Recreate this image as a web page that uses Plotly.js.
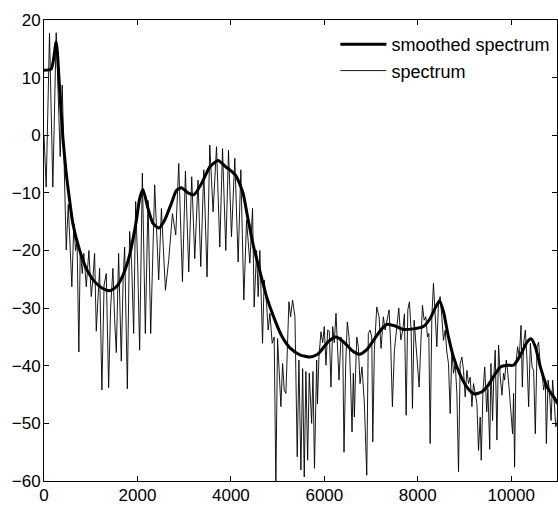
<!DOCTYPE html>
<html>
<head>
<meta charset="utf-8">
<script src="https://cdn.plot.ly/plotly-3.0.1.min.js"></script>
<style>html,body{margin:0;padding:0;background:#fff;}#chart{width:558px;height:506px;}</style>
</head>
<body>
<div id="chart"></div>
<script>
// Smoothed spectrum (Hz, dB)
const smoothFreq = [0,154,261,332,403,476,547,617,761,905,1083,1261,1404,1548,1689,1833,1940,1983,2047,2118,2226,2333,2461,2584,2727,2834,2942,3083,3212,3370,3548,3726,3906,3977,4106,4191,4262,4370,4477,4620,4764,4905,5086,5264,5478,5693,5836,5907,6085,6250,6406,6586,6749,6908,7086,7229,7350,7515,7693,7907,8121,8265,8372,8465,8550,8657,8765,8908,9052,9208,9374,9481,9622,9766,9909,10051,10195,10338,10424,10516,10624,10767,10909,10994];
const smoothDb = [11.3,11.5,16.2,8.4,-0.3,-6.6,-11.2,-15.3,-19.9,-23.1,-25.4,-26.6,-27,-26.3,-24.3,-20.8,-16.5,-14.5,-11,-9.4,-12.7,-15.3,-16.1,-14.7,-11.8,-9.6,-9.1,-10,-10.3,-8.4,-5.5,-4.4,-5.6,-6,-7,-8.5,-10.1,-14.7,-19,-23.6,-28,-31.3,-34.8,-36.9,-38.1,-38.5,-38.1,-37.6,-35.8,-35,-35.8,-37.3,-38,-37.2,-35.2,-33.6,-32.8,-33.1,-33.7,-33.6,-33.2,-31.8,-30,-28.7,-30.6,-35,-38.5,-41.6,-43.7,-44.9,-44.5,-43.7,-41.9,-40.2,-39.9,-39.9,-38.2,-35.9,-35.3,-36.7,-40.2,-43.7,-45.4,-46.6];

// Raw spectrum (Hz, dB)
const specFreq = [0,47,118,189,261,347,390,476,519,596,639,675,708,746,776,819,853,905,961,1012,1046,1083,1119,1190,1239,1286,1333,1383,1426,1475,1512,1548,1597,1654,1694,1726,1784,1833,1876,1919,1962,2004,2047,2105,2169,2226,2284,2369,2455,2513,2599,2669,2749,2820,2884,2963,3027,3098,3162,3227,3297,3355,3420,3490,3548,3619,3692,3763,3821,3891,3949,4013,4084,4155,4213,4277,4335,4406,4464,4498,4550,4584,4620,4678,4712,4764,4798,4835,4884,4927,4963,4999,5033,5070,5107,5141,5178,5214,5242,5278,5321,5371,5420,5456,5499,5536,5570,5606,5643,5677,5729,5757,5789,5836,5853,5885,5928,5965,5999,6035,6072,6106,6142,6179,6213,6250,6286,6314,6357,6393,6421,6458,6492,6529,6565,6593,6621,6643,6668,6694,6728,6764,6807,6857,6908,6942,6979,7015,7037,7071,7122,7172,7214,7264,7300,7337,7386,7422,7457,7500,7551,7594,7637,7680,7714,7751,7787,7821,7858,7886,7922,7958,7993,8029,8066,8100,8136,8173,8207,8237,8265,8301,8336,8372,8408,8443,8479,8515,8550,8587,8622,8657,8694,8730,8765,8801,8837,8872,8908,8944,8979,9015,9052,9086,9122,9159,9193,9229,9266,9300,9336,9358,9395,9433,9476,9501,9540,9566,9601,9627,9658,9694,9729,9766,9802,9836,9858,9894,9922,9958,9995,10029,10051,10072,10102,10137,10173,10210,10238,10266,10303,10338,10373,10410,10446,10480,10516,10553,10587,10624,10660,10694,10731,10752,10789,10817,10853,10887,10924,10952,10981,11009];
const specDb = [0,-9,17.7,-9,17.8,-3.7,8.7,-19.9,-12,-26.3,-15.3,-20,-18.5,-37.6,-19.9,-24,-20.5,-26.3,-20,-28,-25,-20.5,-34,-23.1,-44.2,-26,-24,-43.8,-30,-23.1,-32,-37.7,-20.5,-39.2,-25,-19.4,-44,-16.7,-22.3,-34.4,-11.5,-22,-37.3,-6.6,-34.4,-11.3,-34.4,-8.6,-25.1,-12.7,-26.9,-21.7,-13.6,-17.3,-4.9,-25.4,-6.2,-23.7,-7.2,-21.4,-7.8,-22.8,-6,-24.6,-1.7,-13.3,-2,-19.4,-2.3,-20,-2.6,-17.6,-4,-22,-6,-28.6,-14.7,-22.2,-12.7,-29.8,-20,-28,-20,-36.1,-25.1,-29.2,-33.8,-30.9,-36.1,-35,-61,-35.3,-40.8,-47.1,-39.6,-44.2,-44.8,-35.6,-28.9,-31.5,-28.6,-31.5,-55.8,-39,-58.1,-40.5,-59.3,-41,-56.4,-41.3,-50,-41,-57.8,-39,-46.6,-38.5,-34.1,-36,-33.2,-39.9,-33.8,-34,-43.7,-33.2,-36,-30.9,-39,-42.5,-35,-36,-55,-39.5,-32.4,-35,-43.1,-51.5,-41.3,-48.9,-41.3,-35,-36.7,-43.1,-40.2,-46.6,-59,-34.4,-33.8,-35,-53.2,-37.3,-29.8,-31.5,-37,-31.5,-33.8,-32.1,-30.3,-36.7,-47.1,-37.3,-33.8,-30,-35.5,-33.8,-31,-48.6,-30.3,-28.9,-33.8,-47.4,-32.1,-36.1,-39,-43.7,-36.1,-29.5,-32.1,-31.5,-35,-34.4,-53.5,-31.5,-25.7,-31.5,-36.7,-29.2,-28,-31.5,-35.6,-33.8,-37.6,-39.6,-48.3,-37.3,-41.3,-39.6,-44.8,-58.4,-39.6,-38.5,-40.8,-45.4,-40.8,-43.1,-42,-47.1,-43.1,-44.8,-46.6,-54.7,-48.9,-56.4,-44.5,-40.2,-48,-44,-54.5,-39.6,-49.5,-42,-37.3,-52.9,-36.4,-42,-45.1,-41.3,-42.5,-39,-40.8,-44.2,-48,-51.8,-44.8,-57.6,-39.6,-36.7,-38.5,-33,-43.7,-36.1,-33.8,-39,-47.1,-36.1,-40.2,-40.8,-51.8,-36.7,-35.9,-40.2,-41.3,-44.2,-42.5,-53.5,-42.5,-44.2,-49.5,-42.5,-46.6,-50.6,-50,-46.5];

const xTicks = [0,2000,4000,6000,8000,10000];
const yTicks = [-60,-50,-40,-30,-20,-10,0,10,20];
const seriesNames = ['smoothed spectrum','spectrum'];

const FONT = 'Liberation Sans, Arial, Helvetica, sans-serif';

const traces = [
  {x: specFreq, y: specDb, name: seriesNames[1], type: 'scatter', mode: 'lines',
   line: {color: '#000', width: 0.9}, legendrank: 2},
  {x: smoothFreq, y: smoothDb, name: seriesNames[0], type: 'scatter', mode: 'lines',
   line: {color: '#000', width: 3, shape: 'spline', smoothing: 0.6}, legendrank: 1}
];

const axisCommon = {
  showline: true, linecolor: '#000', linewidth: 1, mirror: 'ticks',
  ticks: 'inside', ticklen: 5, tickcolor: '#000', tickwidth: 1,
  showgrid: false, zeroline: false,
  tickfont: {family: FONT, size: 17, color: '#000'},
  exponentformat: 'none'
};

const layout = {
  width: 558, height: 506,
  margin: {l: 44, r: 1, t: 20, b: 25, pad: 0},
  paper_bgcolor: '#fff', plot_bgcolor: '#fff',
  showlegend: true,
  legend: {x: 0.568, y: 0.987, xanchor: 'left', yanchor: 'top',
    bgcolor: 'rgba(0,0,0,0)', borderwidth: 0,
    font: {family: FONT, size: 18, color: '#000'}, itemwidth: 46},
  xaxis: Object.assign({}, axisCommon, {range: [0, 10980], tickvals: xTicks, ticktext: xTicks.map(String), ticklabelstandoff: -1}),
  yaxis: Object.assign({}, axisCommon, {range: [-60, 20], tickvals: yTicks, ticktext: yTicks.map(v => v < 0 ? '\u2212' + Math.abs(v) : String(v)), ticklabelstandoff: -1})
};

Plotly.newPlot('chart', traces, layout, {displayModeBar: false, staticPlot: true});
</script>
</body>
</html>
